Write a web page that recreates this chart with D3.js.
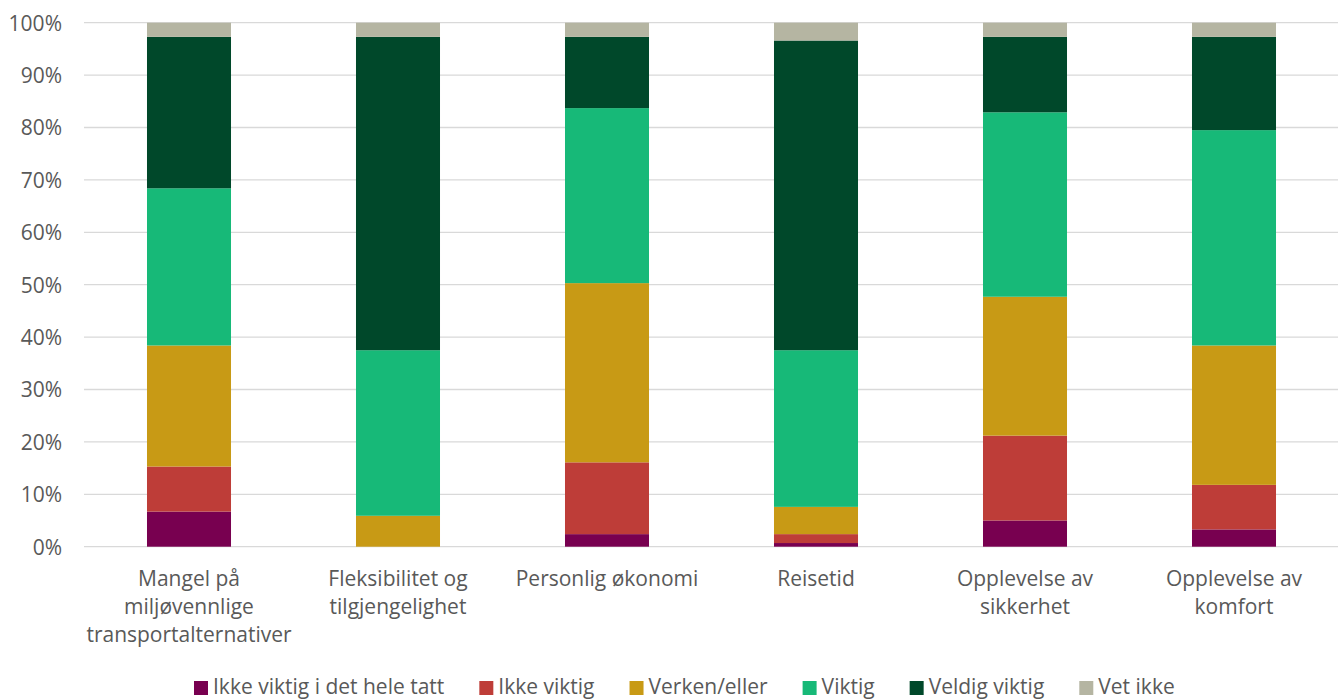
<!DOCTYPE html>
<html><head><meta charset="utf-8">
<script src="https://cdn.jsdelivr.net/npm/d3@7"></script>
<style>body{margin:0;background:#fff}svg{display:block}text{font-family:"Open Sans",sans-serif;fill:#595959}</style>
</head><body>
<script>
const categories = [
  ["Mangel på","miljøvennlige","transportalternativer"],
  ["Fleksibilitet og","tilgjengelighet"],
  ["Personlig økonomi"],
  ["Reisetid"],
  ["Opplevelse av","sikkerhet"],
  ["Opplevelse av","komfort"]
];
const seriesNames = ["Ikke viktig i det hele tatt","Ikke viktig","Verken/eller","Viktig","Veldig viktig","Vet ikke"];
const ikkeViktigHele = [6.7, 0, 2.4, 0.7, 5.0, 3.3];
const ikkeViktig     = [8.6, 0, 13.7, 1.7, 16.2, 8.5];
const verkenEller    = [23.1, 5.9, 34.2, 5.2, 26.5, 26.6];
const viktig         = [30.0, 31.6, 33.4, 29.9, 35.2, 41.1];
const veldigViktig   = [28.9, 59.8, 13.6, 59.1, 14.4, 17.8];
const vetIkke        = [2.7, 2.7, 2.7, 3.4, 2.7, 2.7];
const yTicks = [0,10,20,30,40,50,60,70,80,90,100];
const colors = ["#780050","#be3d38","#c89a15","#17b978","#00482a","#b5b5a2"];

const W=1343,H=700;
const svg=d3.select("body").append("svg").attr("width",W).attr("height",H);
const x=d3.scaleBand().domain(d3.range(categories.length)).range([84.5,1338.5]).paddingInner(0.598).paddingOuter(0.299);
const y=d3.scaleLinear().domain([0,100]).range([546.7,22.7]);

svg.append("g").selectAll("line").data(yTicks).join("line")
  .attr("x1",84).attr("x2",1338).attr("y1",d=>y(d)).attr("y2",d=>y(d))
  .attr("stroke","#d9d9d9").attr("stroke-width",1.3);

const yAxis=d3.axisLeft(y).tickValues(yTicks).tickFormat(d=>d+"%").tickSize(0).tickPadding(0);
const ga=svg.append("g").attr("transform","translate(62,0)").call(yAxis);
ga.select(".domain").remove();
ga.selectAll("text").style("font-size","21px").style("font-family","'Open Sans',sans-serif").attr("fill","#595959").attr("dy","0.35em");

const seriesData=[ikkeViktigHele,ikkeViktig,verkenEller,viktig,veldigViktig,vetIkke];
const rows=categories.map((c,i)=>{const o={i};seriesData.forEach((s,k)=>o[k]=s[i]);return o;});
const stack=d3.stack().keys(d3.range(seriesData.length))(rows);
svg.append("g").selectAll("g").data(stack).join("g").attr("fill",(d,k)=>colors[k])
  .selectAll("rect").data(d=>d).join("rect")
  .attr("x",d=>x(d.data.i)).attr("width",x.bandwidth())
  .attr("y",d=>y(d[1])).attr("height",d=>Math.max(0,y(d[0])-y(d[1])));

const cl=svg.append("g");
categories.forEach((lines,i)=>{
  const t=cl.append("text").attr("text-anchor","middle").style("font-size","21px")
    .attr("x",x(i)+x.bandwidth()/2).attr("y",586);
  lines.forEach((l,j)=>t.append("tspan").attr("x",x(i)+x.bandwidth()/2).attr("dy",j?28:0).text(l));
});

const lg=svg.append("g");
let cx=194;
seriesNames.forEach((n,k)=>{
  lg.append("rect").attr("x",cx).attr("y",681).attr("width",14).attr("height",14).attr("fill",colors[k]);
  const t=lg.append("text").attr("x",cx+19).attr("y",694).style("font-size","21px").text(n);
  cx+=19+t.node().getComputedTextLength()+35;
});
</script>
</body></html>
